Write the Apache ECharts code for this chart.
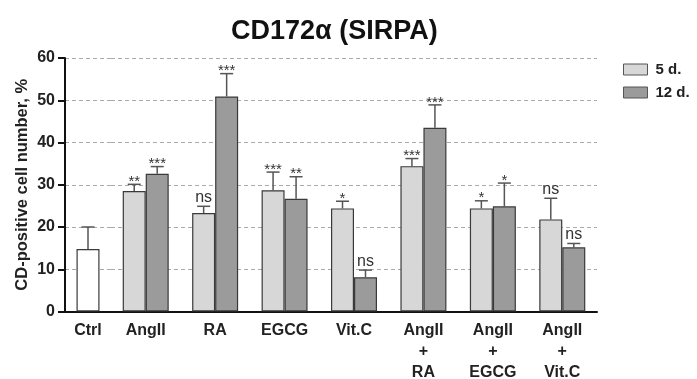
<!DOCTYPE html>
<html>
<head>
<meta charset="utf-8">
<script src="https://cdn.jsdelivr.net/npm/echarts@6/dist/echarts.min.js"></script>
<style>
  html, body { margin: 0; padding: 0; background: #fff; }
  #chart { width: 697px; height: 379px; }
</style>
</head>
<body>
<div id="chart"></div>
<script>
// data
var ctrlCategory = ['Ctrl']
var categories = ['AngII', 'RA', 'EGCG', 'Vit.C', 'AngII\n+\nRA', 'AngII\n+\nEGCG', 'AngII\n+\nVit.C']
var ctrlValue = [14.8]
var ctrlErr = [5.2]
var fiveDay = [28.5, 23.3, 28.7, 24.4, 34.4, 24.4, 21.8]
var fiveDayErr = [1.6, 1.6, 4.3, 1.7, 1.8, 1.8, 5.0]
var twelveDay = [32.6, 50.9, 26.7, 8.1, 43.5, 24.9, 15.2]
var twelveDayErr = [1.7, 5.4, 5.2, 1.7, 5.4, 5.5, 0.9]
var fiveDayMarks = ['**', 'ns', '***', '*', '***', '*', 'ns']
var twelveDayMarks = ['***', '***', '**', 'ns', '***', '*', 'ns']
var yTicks = { min: 0, max: 60, interval: 10 }

var FONT = "'Liberation Sans', Arial, sans-serif"
var BAR_W = 23
var EDGE = '#3a3a3a'

// whisker (upper half only) plus significance mark above it
function errorBar (offset, marks) {
  return function (params, api) {
    var i = api.value(0)
    var x = api.coord([i, 0])[0] + offset
    var yBar = api.coord([i, api.value(1)])[1]
    var yTop = api.coord([i, api.value(1) + api.value(2)])[1]
    var mark = marks ? marks[params.dataIndex] : ''
    var isStar = mark.charAt(0) === '*'
    var children = [
      { type: 'line', shape: { x1: x, y1: yBar, x2: x, y2: yTop }, style: { stroke: '#555', lineWidth: 1.5 } },
      { type: 'line', shape: { x1: x - 6.5, y1: yTop, x2: x + 6.5, y2: yTop }, style: { stroke: '#555', lineWidth: 1.5 } }
    ]
    if (mark) {
      children.push({
        type: 'text',
        style: {
          x: x,
          y: isStar ? yTop + 5 : yTop - 1,
          text: mark,
          align: 'center',
          verticalAlign: 'bottom',
          font: (isStar ? '15px ' : '16px ') + FONT,
          fill: '#333'
        }
      })
    }
    return { type: 'group', children: children }
  }
}

function pairs (vals, errs) {
  return vals.map(function (v, i) { return [i, v, errs[i]] })
}

var axisLabelStyle = { color: '#222', fontFamily: FONT, fontWeight: 'bold', fontSize: 16 }
var split = { show: true, lineStyle: { color: '#aaa', type: [4, 3], width: 1 } }

var xBase = {
  type: 'category',
  axisLine: { lineStyle: { color: '#111', width: 2 } },
  axisTick: { alignWithLabel: true, length: 7, lineStyle: { color: '#111', width: 2 } },
  axisLabel: Object.assign({ margin: 9, lineHeight: 21, interval: 0 }, axisLabelStyle),
  splitLine: { show: false }
}

var myChart = echarts.init(document.getElementById('chart'))
var option = {
  backgroundColor: '#fff',
  animation: false,
  title: {
    text: 'CD172α (SIRPA)',
    left: 226,
    top: 13,
    textStyle: { fontFamily: FONT, fontWeight: 'bold', fontSize: 27, color: '#111' }
  },
  legend: {
    orient: 'vertical',
    left: 618,
    top: 57,
    icon: 'rect',
    itemWidth: 24,
    itemHeight: 11,
    itemGap: 8,
    data: ['5 d.', '12 d.'],
    itemStyle: { borderWidth: 1, borderColor: '#555' },
    textStyle: { fontFamily: FONT, fontWeight: 'bold', fontSize: 15, color: '#222', padding: [0, 0, 0, 3] }
  },
  grid: [
    { left: 65, width: 46, top: 58, height: 253.5, outerBoundsMode: 'none' },
    { left: 111, width: 486, top: 58, height: 253.5, outerBoundsMode: 'none' }
  ],
  xAxis: [
    Object.assign({ gridIndex: 0, data: ctrlCategory }, xBase),
    Object.assign({ gridIndex: 1, data: categories }, xBase)
  ],
  yAxis: [
    {
      type: 'value',
      gridIndex: 0,
      min: yTicks.min,
      max: yTicks.max,
      interval: yTicks.interval,
      name: 'CD-positive cell number, %',
      nameLocation: 'middle',
      nameGap: 34,
      nameTextStyle: { fontFamily: FONT, fontWeight: 'bold', fontSize: 16.5, color: '#222' },
      axisLine: { show: true, lineStyle: { color: '#111', width: 2 } },
      axisTick: { show: true, length: 7, lineStyle: { color: '#111', width: 2 } },
      axisLabel: Object.assign({ margin: 10 }, axisLabelStyle),
      splitLine: split
    },
    {
      type: 'value',
      gridIndex: 1,
      min: yTicks.min,
      max: yTicks.max,
      interval: yTicks.interval,
      axisLine: { show: false },
      axisTick: { show: false },
      axisLabel: { show: false },
      splitLine: split
    }
  ],
  series: [
    {
      name: 'Ctrl',
      type: 'bar',
      xAxisIndex: 0,
      yAxisIndex: 0,
      barWidth: BAR_W,
      data: ctrlValue,
      itemStyle: { color: '#fff', borderColor: EDGE, borderWidth: 1.2 }
    },
    {
      name: '5 d.',
      type: 'bar',
      xAxisIndex: 1,
      yAxisIndex: 1,
      barWidth: BAR_W,
      barGap: '0%',
      data: fiveDay,
      itemStyle: { color: '#d7d7d7', borderColor: EDGE, borderWidth: 1.2 }
    },
    {
      name: '12 d.',
      type: 'bar',
      xAxisIndex: 1,
      yAxisIndex: 1,
      barWidth: BAR_W,
      barGap: '0%',
      data: twelveDay,
      itemStyle: { color: '#9b9b9b', borderColor: EDGE, borderWidth: 1.2 }
    },
    {
      type: 'custom',
      xAxisIndex: 0,
      yAxisIndex: 0,
      renderItem: errorBar(0, null),
      data: pairs(ctrlValue, ctrlErr),
      z: 1
    },
    {
      type: 'custom',
      xAxisIndex: 1,
      yAxisIndex: 1,
      renderItem: errorBar(-BAR_W / 2, fiveDayMarks),
      data: pairs(fiveDay, fiveDayErr),
      z: 1
    },
    {
      type: 'custom',
      xAxisIndex: 1,
      yAxisIndex: 1,
      renderItem: errorBar(BAR_W / 2, twelveDayMarks),
      data: pairs(twelveDay, twelveDayErr),
      z: 1
    }
  ]
}
myChart.setOption(option)
</script>
</body>
</html>
